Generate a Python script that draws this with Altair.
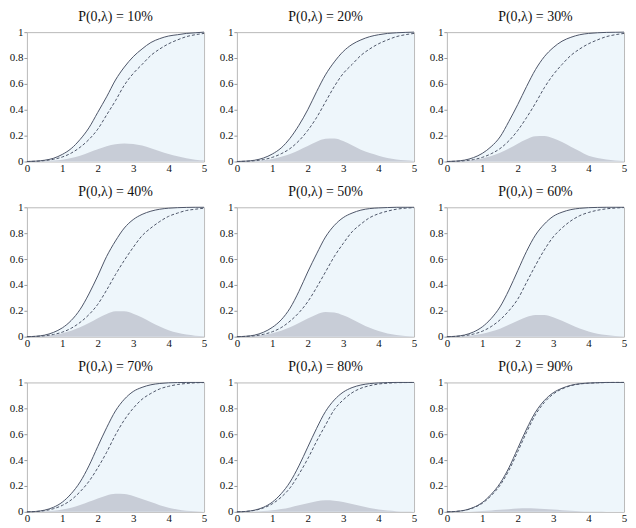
import altair as alt
import pandas as pd

XS = [0, 0.25, 0.5, 0.75, 1, 1.25, 1.5, 1.75, 2, 2.25, 2.5, 2.75, 3, 3.25, 3.5, 3.75, 4, 4.25, 4.5, 4.75, 5]
PANELS = ["10%", "20%", "30%", "40%", "50%", "60%", "70%", "80%", "90%"]

S10 = [0, 0.003, 0.01, 0.025, 0.055, 0.10, 0.17, 0.26, 0.38, 0.50, 0.63, 0.73, 0.81, 0.87, 0.92, 0.95, 0.97, 0.98, 0.99, 0.995, 1.0]
D10 = [0, 0.002, 0.007, 0.017, 0.035, 0.065, 0.11, 0.17, 0.25, 0.36, 0.47, 0.59, 0.68, 0.75, 0.82, 0.87, 0.91, 0.94, 0.965, 0.98, 0.99]
G10 = [0, 0.001, 0.003, 0.007, 0.014, 0.027, 0.045, 0.07, 0.095, 0.118, 0.133, 0.14, 0.136, 0.123, 0.103, 0.08, 0.058, 0.04, 0.025, 0.014, 0.007]

S20 = [0, 0.003, 0.01, 0.027, 0.058, 0.105, 0.18, 0.28, 0.40, 0.54, 0.67, 0.77, 0.85, 0.905, 0.94, 0.965, 0.98, 0.99, 0.995, 0.998, 1.0]
D20 = [0, 0.002, 0.006, 0.015, 0.032, 0.06, 0.10, 0.16, 0.24, 0.34, 0.46, 0.58, 0.68, 0.75, 0.82, 0.87, 0.91, 0.94, 0.965, 0.98, 0.99]
G20 = [0, 0.001, 0.004, 0.01, 0.02, 0.036, 0.058, 0.088, 0.12, 0.153, 0.175, 0.178, 0.158, 0.125, 0.09, 0.065, 0.045, 0.028, 0.016, 0.009, 0.004]

S30 = [0, 0.003, 0.011, 0.03, 0.063, 0.115, 0.19, 0.31, 0.44, 0.58, 0.71, 0.81, 0.88, 0.93, 0.96, 0.98, 0.99, 0.995, 0.998, 0.999, 1.0]
D30 = [0, 0.002, 0.006, 0.015, 0.032, 0.06, 0.10, 0.16, 0.24, 0.34, 0.45, 0.57, 0.67, 0.75, 0.82, 0.87, 0.91, 0.94, 0.965, 0.98, 0.99]
G30 = [0, 0.001, 0.005, 0.012, 0.024, 0.042, 0.068, 0.10, 0.138, 0.172, 0.195, 0.197, 0.18, 0.15, 0.115, 0.08, 0.045, 0.027, 0.015, 0.008, 0.004]

S40 = [0, 0.003, 0.012, 0.033, 0.068, 0.125, 0.21, 0.33, 0.47, 0.62, 0.74, 0.84, 0.905, 0.945, 0.97, 0.985, 0.993, 0.997, 0.999, 1.0, 1.0]
D40 = [0, 0.002, 0.007, 0.017, 0.035, 0.065, 0.11, 0.17, 0.25, 0.36, 0.48, 0.59, 0.69, 0.78, 0.84, 0.89, 0.93, 0.955, 0.975, 0.985, 0.993]
G40 = [0, 0.001, 0.005, 0.013, 0.026, 0.045, 0.072, 0.105, 0.142, 0.175, 0.196, 0.196, 0.178, 0.148, 0.112, 0.078, 0.05, 0.03, 0.016, 0.008, 0.003]

S50 = [0, 0.003, 0.012, 0.034, 0.072, 0.13, 0.22, 0.35, 0.50, 0.64, 0.77, 0.86, 0.92, 0.955, 0.978, 0.99, 0.995, 0.998, 1.0, 1.0, 1.0]
D50 = [0, 0.002, 0.007, 0.018, 0.038, 0.07, 0.12, 0.185, 0.27, 0.38, 0.50, 0.62, 0.72, 0.81, 0.87, 0.92, 0.95, 0.97, 0.985, 0.993, 0.997]
G50 = [0, 0.001, 0.005, 0.013, 0.026, 0.045, 0.072, 0.105, 0.14, 0.172, 0.19, 0.186, 0.165, 0.135, 0.10, 0.068, 0.043, 0.025, 0.013, 0.006, 0.002]

S60 = [0, 0.003, 0.013, 0.036, 0.076, 0.14, 0.23, 0.36, 0.51, 0.66, 0.785, 0.87, 0.93, 0.962, 0.982, 0.992, 0.997, 0.999, 1.0, 1.0, 1.0]
D60 = [0, 0.002, 0.008, 0.02, 0.042, 0.078, 0.13, 0.20, 0.29, 0.42, 0.55, 0.67, 0.77, 0.84, 0.895, 0.935, 0.96, 0.977, 0.988, 0.994, 0.998]
G60 = [0, 0.001, 0.004, 0.011, 0.022, 0.039, 0.062, 0.092, 0.123, 0.152, 0.168, 0.167, 0.15, 0.123, 0.092, 0.063, 0.04, 0.023, 0.012, 0.005, 0.002]

S70 = [0, 0.003, 0.013, 0.035, 0.075, 0.14, 0.23, 0.355, 0.505, 0.65, 0.78, 0.87, 0.93, 0.962, 0.982, 0.992, 0.997, 0.999, 1.0, 1.0, 1.0]
D70 = [0, 0.002, 0.009, 0.024, 0.05, 0.092, 0.155, 0.235, 0.34, 0.46, 0.595, 0.71, 0.80, 0.87, 0.915, 0.95, 0.97, 0.984, 0.992, 0.997, 0.999]
G70 = [0, 0.001, 0.004, 0.009, 0.018, 0.032, 0.052, 0.077, 0.103, 0.127, 0.14, 0.138, 0.123, 0.10, 0.075, 0.051, 0.032, 0.018, 0.009, 0.004, 0.001]

S80 = [0, 0.003, 0.013, 0.035, 0.075, 0.14, 0.23, 0.355, 0.50, 0.645, 0.775, 0.865, 0.925, 0.96, 0.98, 0.991, 0.996, 0.999, 1.0, 1.0, 1.0]
D80 = [0, 0.003, 0.011, 0.03, 0.062, 0.113, 0.185, 0.29, 0.41, 0.545, 0.67, 0.79, 0.865, 0.92, 0.955, 0.975, 0.988, 0.994, 0.998, 0.999, 1.0]
G80 = [0, 0.0005, 0.002, 0.006, 0.012, 0.021, 0.034, 0.05, 0.067, 0.082, 0.089, 0.086, 0.076, 0.061, 0.045, 0.03, 0.018, 0.01, 0.005, 0.002, 0.001]

S90 = [0, 0.003, 0.012, 0.034, 0.072, 0.135, 0.22, 0.34, 0.49, 0.64, 0.77, 0.86, 0.92, 0.955, 0.978, 0.99, 0.995, 0.998, 1.0, 1.0, 1.0]
D90 = [0, 0.003, 0.011, 0.031, 0.066, 0.125, 0.205, 0.32, 0.465, 0.615, 0.75, 0.845, 0.91, 0.95, 0.975, 0.988, 0.994, 0.997, 0.999, 1.0, 1.0]
G90 = [0, 0.0003, 0.001, 0.003, 0.006, 0.01, 0.015, 0.02, 0.025, 0.027, 0.026, 0.022, 0.017, 0.012, 0.008, 0.005, 0.003, 0.002, 0.001, 0.0005, 0.0]

SERIES = {
    "10%": (S10, D10, G10), "20%": (S20, D20, G20), "30%": (S30, D30, G30),
    "40%": (S40, D40, G40), "50%": (S50, D50, G50), "60%": (S60, D60, G60),
    "70%": (S70, D70, G70), "80%": (S80, D80, G80), "90%": (S90, D90, G90),
}
X_TICKS = [0, 1, 2, 3, 4, 5]
Y_TICKS = [0, 0.2, 0.4, 0.6, 0.8, 1]

LINE = "#4d5568"
BLUE = "#eef6fb"
GREY = "#c8cdd7"
FONT = "Liberation Serif"

W, H = 178, 130

XAX = alt.Axis(values=X_TICKS, title=None, labelExpr="format(datum.value, '~g')",
               labelOverlap=False, labelFont=FONT, labelFontSize=11,
               labelColor="#111111", ticks=False, labelPadding=1,
               labelFlush=False, domain=False, grid=False)
YAX = alt.Axis(values=Y_TICKS, title=None, labelExpr="format(datum.value, '~g')",
               labelOverlap=False, labelFont=FONT, labelFontSize=11,
               labelColor="#111111", tickSize=3, tickColor="#999999",
               labelPadding=1, labelFlush=False, domain=False, grid=False)
XSC = alt.Scale(domain=[0, 5], nice=False)
YSC = alt.Scale(domain=[0, 1], nice=False)


def enc_x():
    return alt.X("x:Q", scale=XSC, axis=XAX)


def enc_y(field):
    return alt.Y(f"{field}:Q", scale=YSC, axis=YAX)


def panel(label):
    s, d, g = SERIES[label]
    df = pd.DataFrame({"x": XS, "solid": s, "dashed": d, "grey": g})
    base = alt.Chart(df)
    blue = base.mark_area(color=BLUE, interpolate="monotone").encode(
        x=enc_x(), y=enc_y("solid"))
    grey = base.mark_area(color=GREY, interpolate="monotone").encode(
        x=enc_x(), y=enc_y("grey"))
    sol = base.mark_line(color=LINE, strokeWidth=1, interpolate="monotone").encode(
        x=enc_x(), y=enc_y("solid"))
    das = base.mark_line(color=LINE, strokeWidth=1, strokeDash=[3, 2],
                         interpolate="monotone").encode(
        x=enc_x(), y=enc_y("dashed"))
    return alt.layer(blue, grey, sol, das).properties(
        width=W, height=H,
        title=alt.TitleParams(f"P(0,λ) = {label}"))


rows = []
for r in range(3):
    rows.append(alt.hconcat(*[panel(PANELS[r * 3 + c]) for c in range(3)], spacing=10))

chart = alt.vconcat(*rows, spacing=10).properties(padding=0).configure_view(
    stroke="#b8b8b8", strokeWidth=1
).configure_title(
    font=FONT, fontSize=14, fontWeight="normal", color="#111111", offset=2
)

chart.save("out.html", embed_options={"renderer": "svg", "actions": False})
